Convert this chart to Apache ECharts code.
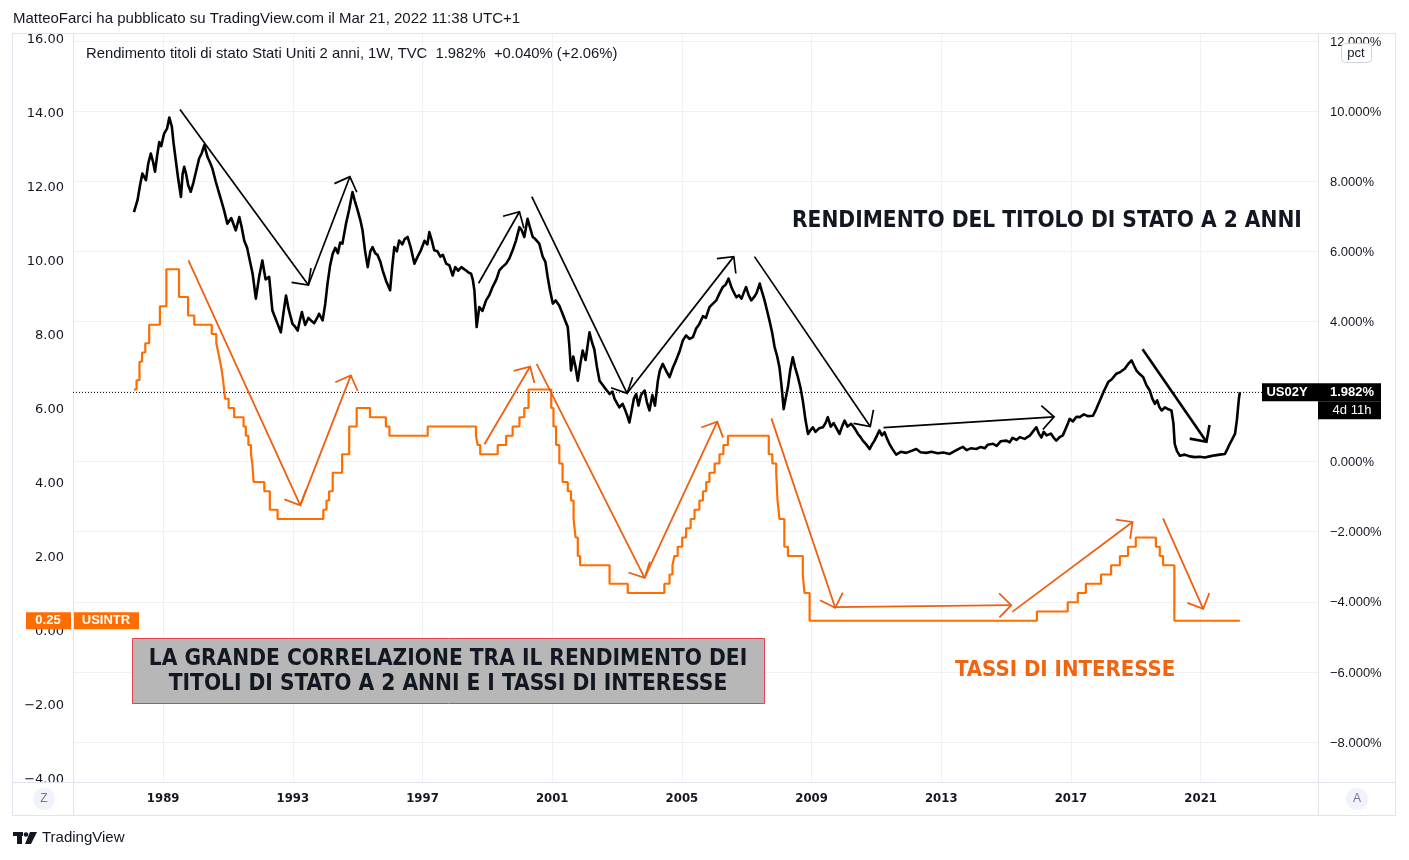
<!DOCTYPE html>
<html>
<head>
<meta charset="utf-8">
<script src="https://cdn.jsdelivr.net/npm/echarts@6/dist/echarts.min.js"></script>
<style>
  html, body { margin: 0; padding: 0; background: #fff; }
  #main { width: 1409px; height: 860px; }
</style>
</head>
<body>
<div id="main"></div>
<script>
// tick labels
const yearTicks = [1989, 1993, 1997, 2001, 2005, 2009, 2013, 2017, 2021];
const leftTicks = [-4, -2, 0, 2, 4, 6, 8, 10, 12, 14, 16];
const rightTicks = [-8, -6, -4, -2, 0, 2, 4, 6, 8, 10, 12];

// US 2 year yield (weekly), right axis, %
const yieldDates = [
  1988.10, 1988.21, 1988.29, 1988.36, 1988.47, 1988.54, 1988.62, 1988.69, 1988.75, 1988.81, 1988.88, 1988.94,
  1989.03, 1989.12, 1989.19, 1989.27, 1989.32, 1989.39, 1989.46, 1989.55, 1989.60, 1989.65, 1989.71, 1989.77, 1989.85, 1989.93,
  1990.02, 1990.11, 1990.19, 1990.27, 1990.37, 1990.44, 1990.52, 1990.62, 1990.73, 1990.81, 1990.88, 1990.98,
  1991.10, 1991.24, 1991.35, 1991.42, 1991.50, 1991.59, 1991.65, 1991.76, 1991.86, 1991.96,
  1992.06, 1992.16, 1992.27, 1992.37, 1992.46, 1992.53, 1992.63, 1992.72, 1992.79, 1992.87, 1992.99,
  1993.07, 1993.15, 1993.21, 1993.28, 1993.38, 1993.48, 1993.56, 1993.66, 1993.75, 1993.81, 1993.92,
  1994.00, 1994.07, 1994.15, 1994.23, 1994.31, 1994.39, 1994.46, 1994.53, 1994.64, 1994.74, 1994.84, 1994.91,
  1995.00, 1995.08, 1995.15, 1995.23, 1995.31, 1995.39, 1995.46, 1995.54, 1995.61, 1995.70, 1995.77, 1995.88,
  1996.00, 1996.07, 1996.13, 1996.21, 1996.28, 1996.38, 1996.45, 1996.54, 1996.64, 1996.75, 1996.85, 1996.95,
  1997.06, 1997.15, 1997.21, 1997.29, 1997.36, 1997.46, 1997.55, 1997.63, 1997.73, 1997.83, 1997.93,
  1998.01, 1998.10, 1998.20, 1998.27, 1998.34, 1998.41, 1998.50, 1998.55, 1998.60, 1998.67, 1998.75, 1998.85, 1998.96,
  1999.06, 1999.16, 1999.28, 1999.37, 1999.46, 1999.58, 1999.68, 1999.78, 1999.88, 1999.99,
  2000.06, 2000.14, 2000.24, 2000.31, 2000.40, 2000.48, 2000.60, 2000.71, 2000.79, 2000.86, 2000.93,
  2001.02, 2001.11, 2001.22, 2001.32, 2001.39, 2001.48, 2001.53, 2001.58, 2001.65, 2001.72, 2001.79, 2001.87, 2001.94,
  2002.03, 2002.15, 2002.23, 2002.30, 2002.38, 2002.46, 2002.61, 2002.77, 2002.86, 2002.92,
  2003.07, 2003.17, 2003.26, 2003.32, 2003.38, 2003.46, 2003.52, 2003.59, 2003.66, 2003.74, 2003.85, 2003.92,
  2004.00, 2004.09, 2004.17, 2004.26, 2004.32, 2004.41, 2004.51, 2004.62, 2004.73, 2004.82, 2004.93,
  2005.03, 2005.13, 2005.24, 2005.34, 2005.44, 2005.54, 2005.65, 2005.74, 2005.85, 2005.95,
  2006.06, 2006.16, 2006.26, 2006.35, 2006.44, 2006.52, 2006.59, 2006.68, 2006.76, 2006.84, 2006.92, 2006.98,
  2007.06, 2007.14, 2007.23, 2007.30, 2007.40, 2007.47, 2007.55, 2007.63, 2007.70, 2007.78, 2007.86, 2007.94,
  2008.01, 2008.07, 2008.14, 2008.20, 2008.27, 2008.34, 2008.42, 2008.49, 2008.58, 2008.66, 2008.73, 2008.81, 2008.89, 2008.97,
  2009.04, 2009.12, 2009.23, 2009.35, 2009.43, 2009.50, 2009.59, 2009.68, 2009.77, 2009.86, 2009.94,
  2010.02, 2010.11, 2010.22, 2010.33, 2010.43, 2010.51, 2010.58, 2010.68, 2010.79, 2010.87, 2010.94,
  2011.02, 2011.09, 2011.17, 2011.25, 2011.33, 2011.40, 2011.50, 2011.61, 2011.75, 2011.92,
  2012.06, 2012.23, 2012.36, 2012.54, 2012.70, 2012.89,
  2013.07, 2013.26, 2013.41, 2013.57, 2013.67, 2013.78, 2013.91,
  2014.08, 2014.22, 2014.34, 2014.43, 2014.60, 2014.71, 2014.83,
  2015.01, 2015.11, 2015.20, 2015.32, 2015.42, 2015.57, 2015.73, 2015.82, 2015.93,
  2016.01, 2016.09, 2016.16, 2016.25, 2016.38, 2016.47, 2016.55, 2016.65, 2016.75, 2016.81, 2016.89, 2016.96,
  2017.06, 2017.17, 2017.27, 2017.40, 2017.52, 2017.68, 2017.78, 2017.89,
  2018.01, 2018.15, 2018.26, 2018.40, 2018.51, 2018.66, 2018.76, 2018.87, 2018.94,
  2019.02, 2019.12, 2019.23, 2019.32, 2019.43, 2019.51, 2019.59, 2019.66, 2019.73, 2019.80, 2019.90, 2019.99,
  2020.10, 2020.16, 2020.20, 2020.27, 2020.36, 2020.51, 2020.67, 2020.82, 2020.98,
  2021.13, 2021.28, 2021.44, 2021.59, 2021.75, 2021.82, 2021.90, 2021.98,
  2022.06, 2022.12, 2022.15, 2022.18, 2022.21
];
const yieldValues = [
  7.12, 7.46, 7.90, 8.22, 8.03, 8.50, 8.79, 8.55, 8.27, 8.70, 9.12, 9.00,
  9.36, 9.50, 9.82, 9.55, 9.10, 8.60, 8.10, 7.55, 8.20, 8.41, 8.20, 7.90, 7.70, 7.95,
  8.30, 8.65, 8.80, 9.03, 8.69, 8.55, 8.36, 8.00, 7.65, 7.40, 7.17, 6.79,
  6.95, 6.60, 6.98, 6.70, 6.31, 6.10, 5.84, 5.36, 4.65, 5.27,
  5.74, 5.20, 5.27, 4.31, 4.10, 3.93, 3.69, 4.30, 4.74, 4.35, 3.93,
  3.85, 3.74, 4.00, 4.27, 3.90, 4.10, 4.03, 3.95, 4.10, 4.22, 4.03,
  4.50, 5.08, 5.60, 5.93, 6.10, 5.95, 6.25, 6.22, 6.79, 7.20, 7.69, 7.45,
  7.17, 6.90, 6.60, 6.00, 5.55, 6.00, 6.12, 5.95, 5.90, 5.70, 5.46, 5.15,
  4.89, 5.60, 6.12, 6.00, 6.31, 6.20, 6.35, 6.41, 6.10, 5.65, 5.85, 6.03,
  6.30, 6.20, 6.55, 6.30, 6.03, 6.00, 5.85, 5.90, 5.65, 5.60, 5.31,
  5.55, 5.45, 5.55, 5.50, 5.46, 5.40, 5.36, 5.20, 4.89, 3.84, 4.41, 4.30, 4.60,
  4.75, 4.98, 5.20, 5.46, 5.55, 5.65, 5.80, 6.03, 6.30, 6.69,
  6.60, 6.41, 6.93, 6.70, 6.41, 6.35, 6.22, 5.84, 5.70, 5.27, 4.90,
  4.51, 4.60, 4.45, 4.22, 4.05, 3.84, 3.30, 2.60, 3.00, 2.70, 2.31, 2.80, 3.17,
  2.90, 3.69, 3.40, 3.20, 2.70, 2.31, 2.12, 1.93, 2.00, 1.80,
  1.55, 1.65, 1.45, 1.30, 1.12, 1.50, 1.80, 1.93, 1.60, 1.90, 2.03, 1.70,
  1.46, 1.90, 1.60, 2.31, 2.60, 2.79, 2.60, 2.41, 2.70, 2.89, 3.15,
  3.46, 3.60, 3.50, 3.55, 3.80, 3.93, 4.15, 4.10, 4.41, 4.50,
  4.60, 4.80, 4.98, 5.05, 5.22, 5.00, 4.85, 4.69, 4.75, 4.65, 4.85, 4.98,
  4.75, 4.60, 4.70, 4.80, 5.08, 4.85, 4.60, 4.30, 4.03, 3.70, 3.27, 3.00,
  2.69, 2.20, 1.50, 1.80, 2.12, 2.60, 2.98, 2.70, 2.41, 2.10, 1.74, 1.20, 0.79, 0.90,
  0.98, 0.85, 0.95, 0.98, 1.10, 1.27, 1.00, 1.10, 0.95, 0.79, 1.00,
  1.17, 1.00, 1.08, 0.95, 0.79, 0.70, 0.60, 0.50, 0.36, 0.50, 0.60,
  0.75, 0.89, 0.75, 0.84, 0.65, 0.51, 0.35, 0.20, 0.28, 0.25,
  0.30, 0.36, 0.27, 0.25, 0.28, 0.24,
  0.26, 0.22, 0.30, 0.38, 0.42, 0.33, 0.38,
  0.36, 0.42, 0.38, 0.48, 0.51, 0.45, 0.58,
  0.60, 0.55, 0.68, 0.62, 0.70, 0.65, 0.74, 0.85, 0.98,
  0.80, 0.69, 0.85, 0.75, 0.80, 0.68, 0.60, 0.70, 0.75, 0.79, 1.05, 1.22,
  1.15, 1.28, 1.27, 1.35, 1.30, 1.31, 1.50, 1.74,
  2.00, 2.27, 2.35, 2.51, 2.55, 2.65, 2.78, 2.89, 2.75,
  2.60, 2.50, 2.41, 2.20, 2.03, 1.80, 1.65, 1.75, 1.55, 1.46, 1.55, 1.50,
  1.46, 1.10, 0.51, 0.30, 0.17, 0.20, 0.15, 0.13, 0.14,
  0.12, 0.15, 0.18, 0.20, 0.22, 0.35, 0.51, 0.65,
  0.79, 1.20, 1.50, 1.80, 1.982
];

// US interest rate (step changes), left axis
const rateDates = [
  1988.10, 1988.18, 1988.27, 1988.35, 1988.45, 1988.57, 1988.90, 1989.10, 1989.49, 1989.77, 1989.96,
  1990.50, 1990.64, 1990.70, 1990.76, 1990.81, 1990.85, 1990.91, 1991.02, 1991.19, 1991.48, 1991.55,
  1991.63, 1991.71, 1991.75, 1991.79, 1992.12, 1992.29, 1992.53, 1993.94, 1994.04, 1994.12, 1994.23,
  1994.52, 1994.74, 1994.97, 1995.38, 1995.87, 1995.98, 1997.16, 1998.65, 1998.70, 1998.78, 1999.32,
  1999.58, 1999.78, 1999.99, 2000.14, 2000.27, 2000.97, 2001.04, 2001.12, 2001.22, 2001.32, 2001.48,
  2001.58, 2001.66, 2001.72, 2001.79, 2001.86, 2002.77, 2003.33, 2004.46, 2004.62, 2004.71, 2004.77,
  2004.87, 2005.01, 2005.13, 2005.27, 2005.39, 2005.54, 2005.65, 2005.75, 2005.85, 2006.01, 2006.16,
  2006.28, 2006.42, 2007.68, 2007.79, 2007.91, 2007.95, 2008.01, 2008.16, 2008.27, 2008.73, 2008.78,
  2008.94, 2015.95, 2016.90, 2017.21, 2017.46, 2017.93, 2018.24, 2018.51, 2018.76, 2019.00, 2019.62,
  2019.74, 2019.84, 2020.19, 2022.21
];
const rateValues = [
  6.5, 6.75, 7.25, 7.5, 7.75, 8.25, 8.75, 9.75, 9.0, 8.5, 8.25,
  8.0, 7.75, 7.5, 7.25, 7.0, 6.75, 6.25, 6.0, 5.75, 5.5, 5.25,
  5.0, 4.75, 4.5, 4.0, 3.75, 3.25, 3.0, 3.25, 3.5, 3.75, 4.25,
  4.75, 5.5, 6.0, 5.75, 5.5, 5.25, 5.5, 5.25, 5.0, 4.75, 5.0,
  5.25, 5.5, 5.75, 6.0, 6.5, 6.0, 5.5, 5.0, 4.5, 4.0, 3.75,
  3.5, 3.0, 2.5, 2.0, 1.75, 1.25, 1.0, 1.25, 1.5, 1.75, 2.0,
  2.25, 2.5, 2.75, 3.0, 3.25, 3.5, 3.75, 4.0, 4.25, 4.5, 4.75,
  5.0, 5.25, 4.75, 4.5, 4.25, 3.5, 3.0, 2.25, 2.0, 1.5, 1.0,
  0.25, 0.5, 0.75, 1.0, 1.25, 1.5, 1.75, 2.0, 2.25, 2.5, 2.25,
  2.0, 1.75, 0.25, 0.25
];

// hand drawn trend arrows [fromYear, fromValue, toYear, toValue]
const yieldArrows = [
  [1989.52, 10.05, 1993.48, 5.04],
  [1993.48, 5.04, 1994.76, 8.13],
  [1998.73, 5.09, 1999.99, 7.13],
  [2000.37, 7.56, 2003.31, 1.95],
  [2003.31, 1.95, 2006.60, 5.85],
  [2007.24, 5.85, 2010.81, 1.00],
  [2011.22, 0.97, 2016.48, 1.28]
];
const yieldArrowLate = [[2019.21, 3.21, 2021.18, 0.57]];
const rateArrows = [
  [1989.78, 9.99, 1993.23, 3.37],
  [1993.23, 3.37, 1994.79, 6.88],
  [1998.91, 5.02, 2000.32, 7.12],
  [2000.52, 7.19, 2003.85, 1.41],
  [2003.85, 1.41, 2006.09, 5.63],
  [2007.76, 5.72, 2009.73, 0.60],
  [2009.73, 0.62, 2015.16, 0.67],
  [2015.19, 0.49, 2018.90, 2.92],
  [2019.84, 3.02, 2021.08, 0.57]
];

const lastYield = 1.982;
const lastRate = 0.25;

const UI_FONT = "'Liberation Sans', Arial, sans-serif";
const ANN_FONT = "'DejaVu Sans Condensed', 'Liberation Sans Narrow', 'DejaVu Sans', sans-serif";
const INK = '#131722';
const ORANGE = '#ff6d00';
const ORANGE_ARROW = '#ef5f10';

const chart = echarts.init(document.getElementById('main'));

function fmt(v, d) {
  const s = Math.abs(v).toFixed(d);
  return v < 0 ? '\u2212' + s : s;
}

function arrowSeries(arrows, yAxisIndex, color, width) {
  return {
    type: 'custom',
    xAxisIndex: 0,
    yAxisIndex: yAxisIndex,
    silent: true,
    z: 5,
    data: arrows,
    encode: { x: [0, 2], y: [1, 3] },
    renderItem: function (params, api) {
      const p1 = api.coord([api.value(0), api.value(1)]);
      const p2 = api.coord([api.value(2), api.value(3)]);
      const ang = Math.atan2(p2[1] - p1[1], p2[0] - p1[0]);
      const L = 17, A = Math.PI / 4;
      const h1 = [p2[0] - L * Math.cos(ang - A), p2[1] - L * Math.sin(ang - A)];
      const h2 = [p2[0] - L * Math.cos(ang + A), p2[1] - L * Math.sin(ang + A)];
      return {
        type: 'group',
        children: [
          { type: 'line', shape: { x1: p1[0], y1: p1[1], x2: p2[0], y2: p2[1] },
            style: { stroke: color, lineWidth: width } },
          { type: 'polyline', shape: { points: [h1, p2, h2] },
            style: { stroke: color, lineWidth: width, fill: null } }
        ]
      };
    }
  };
}

const option = {
  animation: false,
  backgroundColor: '#ffffff',
  grid: { left: 73, right: 91, top: 33, bottom: 78 },
  xAxis: {
    type: 'value',
    min: 1986.22,
    max: 2024.62,
    axisLine: { show: false },
    axisTick: { show: false, customValues: yearTicks },
    axisLabel: {
      customValues: yearTicks,
      formatter: v => String(v),
      color: INK, fontSize: 13, fontWeight: 'bold', fontFamily: ANN_FONT, margin: 10
    },
    splitLine: { show: true, lineStyle: { color: '#eff1f5', width: 1 } }
  },
  yAxis: [
    {
      type: 'value', position: 'left', min: -4.108, max: 16.135,
      axisLine: { show: false },
      axisTick: { show: false, customValues: leftTicks },
      axisLabel: {
        customValues: leftTicks, formatter: v => fmt(v, 2),
        color: INK, fontSize: 13, fontFamily: "'DejaVu Sans', sans-serif", margin: 9,
        verticalAlign: 'top', lineHeight: 4
      },
      splitLine: { show: false }
    },
    {
      type: 'value', position: 'right', min: -9.14, max: 12.23,
      axisLine: { show: false },
      axisTick: { show: false, customValues: rightTicks },
      axisLabel: {
        customValues: rightTicks, formatter: v => fmt(v, 3) + '%',
        color: INK, fontSize: 13, fontFamily: UI_FONT, margin: 12,
        verticalAlign: 'top', lineHeight: 2
      },
      splitLine: { show: true, lineStyle: { color: '#eff1f5', width: 1 } }
    }
  ],
  series: [
    {
      type: 'line', name: 'USINTR', xAxisIndex: 0, yAxisIndex: 0,
      step: 'end', symbol: 'none',
      data: rateDates.map((d, i) => [d, rateValues[i]]),
      lineStyle: { color: ORANGE, width: 2.2 },
      z: 3
    },
    {
      type: 'line', name: 'US02Y', xAxisIndex: 0, yAxisIndex: 1,
      symbol: 'none',
      data: yieldDates.map((d, i) => [d, yieldValues[i]]),
      lineStyle: { color: '#000000', width: 2.6, join: 'round' },
      z: 4,
      markLine: {
        silent: true, symbol: ['none', 'none'], label: { show: false },
        lineStyle: { color: INK, type: [1, 2], width: 1 },
        data: [{ yAxis: lastYield }]
      }
    },
    arrowSeries(yieldArrows, 1, '#000000', 1.7),
    arrowSeries(yieldArrowLate, 1, '#000000', 2.6),
    arrowSeries(rateArrows, 0, ORANGE_ARROW, 1.8)
  ]
};

chart.setOption(option);

const yLast = chart.convertToPixel({ yAxisIndex: 1 }, lastYield);
const rLast = chart.convertToPixel({ yAxisIndex: 0 }, lastRate);

function txt(x, y, text, o) {
  return {
    type: 'text', x: x, y: y, z: o.z || 60,
    style: {
      text: text, fill: o.fill || INK, fontSize: o.size || 13,
      fontFamily: o.family || UI_FONT, fontWeight: o.weight || 'normal',
      textAlign: o.align || 'left', textVerticalAlign: 'middle'
    }
  };
}

const frame = '#e0e3eb';
chart.setOption({
  graphic: [
    // chart frame
    { type: 'rect', shape: { x: 12.5, y: 33.5, width: 1383, height: 782 }, style: { fill: null, stroke: frame, lineWidth: 1 }, z: 1 },
    { type: 'line', shape: { x1: 73.5, y1: 33, x2: 73.5, y2: 816 }, style: { stroke: frame, lineWidth: 1 }, z: 1 },
    { type: 'line', shape: { x1: 1318.5, y1: 33, x2: 1318.5, y2: 816 }, style: { stroke: frame, lineWidth: 1 }, z: 1 },
    { type: 'line', shape: { x1: 12, y1: 782.5, x2: 1396, y2: 782.5 }, style: { stroke: frame, lineWidth: 1 }, z: 1 },

    // header and legend
    txt(13, 19, 'MatteoFarci ha pubblicato su TradingView.com il Mar 21, 2022 11:38 UTC+1', { size: 15 }),
    txt(86, 54, 'Rendimento titoli di stato Stati Uniti 2 anni, 1W, TVC  1.982%  +0.040% (+2.06%)', { size: 14.8 }),

    // pct button
    { type: 'rect', shape: { x: 1341.5, y: 43.5, width: 30, height: 19, r: 4 }, style: { fill: '#ffffff', stroke: '#d1d4dc', lineWidth: 1 }, z: 60 },
    txt(1356, 53, 'pct', { size: 13, align: 'center', z: 61 }),

    // Z / A buttons
    { type: 'circle', shape: { cx: 44, cy: 799, r: 11 }, style: { fill: '#f0f3fa' }, z: 60 },
    txt(44, 799, 'Z', { size: 12, align: 'center', fill: '#787b86', z: 61 }),
    { type: 'circle', shape: { cx: 1357, cy: 799, r: 11 }, style: { fill: '#f0f3fa' }, z: 60 },
    txt(1357, 799, 'A', { size: 12, align: 'center', fill: '#787b86', z: 61 }),

    // annotations
    txt(792, 221, 'RENDIMENTO DEL TITOLO DI STATO A 2 ANNI', { size: 22.5, family: ANN_FONT, weight: 'bold' }),
    txt(955, 670, 'TASSI DI INTERESSE', { size: 22, family: ANN_FONT, weight: 'bold', fill: '#f0650f' }),
    { type: 'rect', shape: { x: 132.5, y: 638.5, width: 632, height: 65 }, style: { fill: '#b7b7b7', stroke: '#e8404f', lineWidth: 1 }, z: 55 },
    txt(448, 659, 'LA GRANDE CORRELAZIONE TRA IL RENDIMENTO DEI', { size: 22.5, family: ANN_FONT, weight: 'bold', align: 'center', z: 56 }),
    txt(448, 684, 'TITOLI DI STATO A 2 ANNI E I TASSI DI INTERESSE', { size: 22.5, family: ANN_FONT, weight: 'bold', align: 'center', z: 56 }),

    // last value label US02Y
    { type: 'rect', shape: { x: 1262, y: yLast - 9, width: 119, height: 18 }, style: { fill: '#000000' }, z: 70 },
    { type: 'rect', shape: { x: 1318, y: yLast + 9, width: 63, height: 18 }, style: { fill: '#000000' }, z: 70 },
    txt(1287, yLast, 'US02Y', { size: 13, weight: 'bold', fill: '#ffffff', align: 'center', z: 71 }),
    txt(1352, yLast, '1.982%', { size: 13, weight: 'bold', fill: '#ffffff', align: 'center', z: 71 }),
    txt(1352, yLast + 18, '4d 11h', { size: 13, fill: '#ffffff', align: 'center', z: 71 }),

    // last value label USINTR
    { type: 'rect', shape: { x: 26, y: rLast - 8.5, width: 45, height: 17 }, style: { fill: ORANGE }, z: 70 },
    { type: 'rect', shape: { x: 74, y: rLast - 8.5, width: 65, height: 17 }, style: { fill: ORANGE }, z: 70 },
    txt(48, rLast, '0.25', { size: 13, weight: 'bold', fill: '#ffffff', align: 'center', z: 71 }),
    txt(106, rLast, 'USINTR', { size: 13, weight: 'bold', fill: '#ffffff', align: 'center', z: 71 }),

    // TradingView footer logo
    { type: 'rect', shape: { x: 13, y: 832, width: 10, height: 4 }, style: { fill: INK }, z: 60 },
    { type: 'rect', shape: { x: 17, y: 832, width: 5, height: 12 }, style: { fill: INK }, z: 60 },
    { type: 'circle', shape: { cx: 26, cy: 834.5, r: 2.3 }, style: { fill: INK }, z: 60 },
    { type: 'polygon', shape: { points: [[30, 832], [37, 832], [31, 844], [25, 844]] }, style: { fill: INK }, z: 60 },
    txt(42, 838, 'TradingView', { size: 15 })
  ]
});
</script>
</body>
</html>
